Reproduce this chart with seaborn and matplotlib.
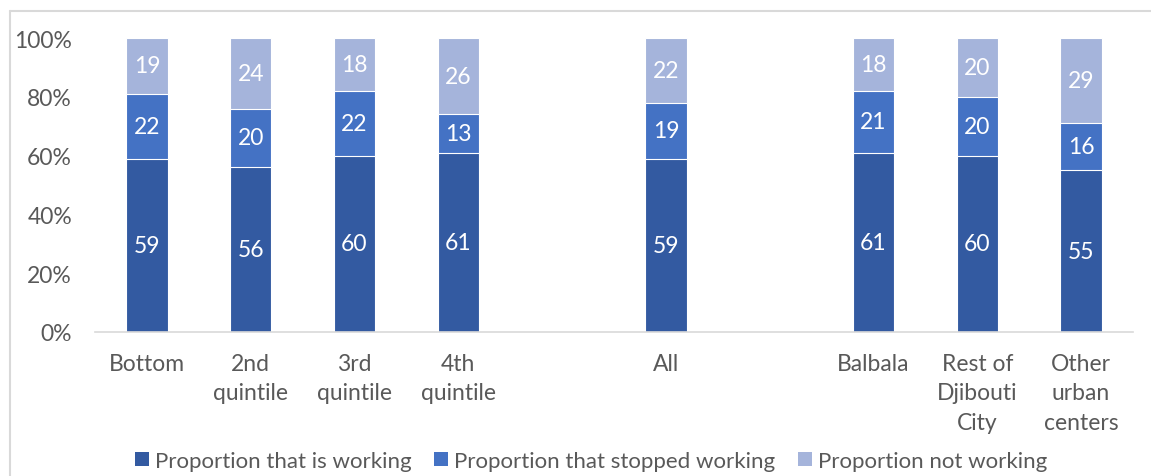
import matplotlib
matplotlib.use("Agg")
import matplotlib.pyplot as plt
from matplotlib.patches import Patch
from matplotlib.lines import Line2D
import seaborn as sns
import pandas as pd
import numpy as np

# Category slots (empty strings keep the gaps between groups)
categories = ["Bottom", "2nd\nquintile", "3rd\nquintile", "4th\nquintile", " ",
              "All", "  ", "Balbala", "Rest of\nDjibouti\nCity", "Other\nurban\ncenters"]
bar_categories = ["Bottom", "2nd\nquintile", "3rd\nquintile", "4th\nquintile",
                  "All", "Balbala", "Rest of\nDjibouti\nCity", "Other\nurban\ncenters"]

working = [59, 56, 60, 61, 59, 61, 60, 55]
stopped = [22, 20, 22, 13, 19, 21, 20, 16]
not_working = [19, 24, 18, 26, 22, 18, 20, 29]

series_names = ["Proportion that is working", "Proportion that stopped working",
                "Proportion not working"]
colors = ["#335AA1", "#4472C4", "#A5B4DB"]
text_gray = "#595959"
fs = 16.5

sns.set_theme(style="white")
plt.rcParams["font.family"] = ["Lato", "DejaVu Sans"]

df = pd.DataFrame({
    "category": bar_categories,
    "working": working,
    "stopped": stopped,
    "not_working": not_working,
})
df["top1"] = df["working"]
df["top2"] = df["working"] + df["stopped"]
df["top3"] = df["top2"] + df["not_working"]

fig = plt.figure(figsize=(11.51, 4.77), dpi=100)
ax = fig.add_axes([95 / 1151, 1 - 333 / 477, (1133 - 95) / 1151, (333 - 39) / 477])

# Stacked bars drawn from the tallest cumulative level down
for col, color in zip(["top3", "top2", "top1"], colors[::-1]):
    sns.barplot(data=df, x="category", y=col, order=categories, color=color,
                width=0.4, edgecolor="white", linewidth=0.8, saturation=1,
                ax=ax, errorbar=None)

# Segment value labels at segment centres
pos = {c: i for i, c in enumerate(categories)}
for _, row in df.iterrows():
    x = pos[row["category"]]
    base = 0
    for key in ["working", "stopped", "not_working"]:
        v = row[key]
        ax.text(x, base + v / 2, f"{v:d}", ha="center", va="center",
                color="white", fontsize=fs)
        base += v

ax.set_ylim(0, 100)
ax.set_xlim(-0.5, len(categories) - 0.5)
ax.set_yticks(np.arange(0, 101, 20))
ax.set_yticklabels([f"{t}%" for t in range(0, 101, 20)])
ax.set_xlabel("")
ax.set_ylabel("")
ax.tick_params(axis="y", length=0, pad=16.5, labelsize=fs, labelcolor=text_gray)
ax.tick_params(axis="x", length=0, pad=15, labelsize=fs, labelcolor=text_gray)
for lbl in ax.get_xticklabels():
    lbl.set_linespacing(1.5)
for side in ["top", "right", "left"]:
    ax.spines[side].set_visible(False)
ax.spines["bottom"].set_color("#D9D9D9")
ax.spines["bottom"].set_linewidth(1.2)

handles = [Patch(facecolor=c, edgecolor="none") for c in colors]
fig.legend(handles, series_names, loc="center", bbox_to_anchor=(591 / 1151, 1 - 462 / 477),
           ncol=3, frameon=False, fontsize=16, labelcolor=text_gray,
           handlelength=0.62, handleheight=0.62, handletextpad=0.25, columnspacing=1.05)

# Chart area border (top and left edges)
fig.add_artist(Line2D([10 / 1151, 10 / 1151], [0, 1 - 12 / 477], transform=fig.transFigure,
                      color="#D9D9D9", linewidth=1.5))
fig.add_artist(Line2D([10 / 1151, 1], [1 - 12 / 477, 1 - 12 / 477], transform=fig.transFigure,
                      color="#D9D9D9", linewidth=1.5))

fig.savefig("out.png", dpi=100)
